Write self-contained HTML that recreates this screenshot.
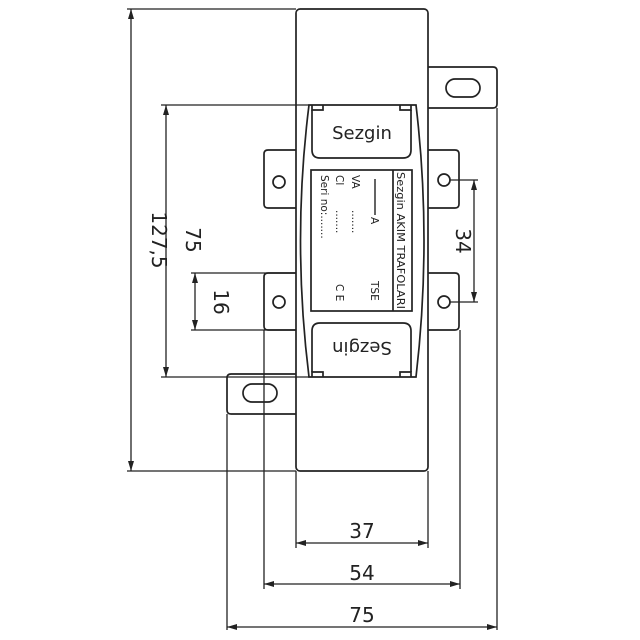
<!DOCTYPE html>
<html><head><meta charset="utf-8"><style>html,body{margin:0;padding:0;background:#fff}svg{display:block}text{font-family:"DejaVu Sans","Liberation Sans",sans-serif;fill:#222}</style></head>
<body>
<svg width="640" height="640" viewBox="0 0 640 640" xmlns="http://www.w3.org/2000/svg">
<defs>
<marker id="a" viewBox="0 0 10 6" refX="10" refY="3" markerWidth="10" markerHeight="6" orient="auto-start-reverse" markerUnits="userSpaceOnUse"><path d="M0,0 L10,3 L0,6 Z" fill="#222"/></marker>
</defs>
<g fill="none" stroke="#222" stroke-width="1.7">
<rect x="296" y="9" width="132" height="462" rx="4"/>
<path d="M428,67 H493 Q497,67 497,71 V104 Q497,108 493,108 H428"/>
<rect x="446" y="79" width="34" height="18" rx="9"/>
<path d="M296,374 H231 Q227,374 227,378 V410 Q227,414 231,414 H296"/>
<rect x="243" y="384" width="34" height="18" rx="9"/>
<path d="M428,150 H455 Q459,150 459,154 V204 Q459,208 455,208 H428"/>
<path d="M428,273 H455 Q459,273 459,277 V326 Q459,330 455,330 H428"/>
<circle cx="444" cy="180" r="6"/>
<circle cx="444" cy="302" r="6"/>
<path d="M296,150 H268 Q264,150 264,154 V204 Q264,208 268,208 H296"/>
<path d="M296,273 H268 Q264,273 264,277 V326 Q264,330 268,330 H296"/>
<circle cx="279" cy="182" r="6"/>
<circle cx="279" cy="302" r="6"/>
<path d="M309,105 H416 Q432,240 416,377 H309 Q292,240 309,105 Z" fill="#fff"/>
<path d="M312,105 V110 H323 V105 M411,105 V110 H400 V105"/>
<path d="M312,110 V150 Q312,158 320,158 H403 Q411,158 411,150 V110"/>
<path d="M312,377 V372 H323 V377 M411,377 V372 H400 V377"/>
<path d="M312,372 V331 Q312,323 320,323 H403 Q411,323 411,331 V372"/>
<rect x="311" y="170" width="101" height="141"/>
<line x1="393" y1="170" x2="393" y2="311"/>
<line x1="375" y1="179" x2="375" y2="215" stroke-width="1.4"/>
</g>
<g stroke="#222" stroke-width="1.3" fill="none">
<line x1="127" y1="9" x2="296" y2="9"/>
<line x1="127" y1="471" x2="296" y2="471"/>
<line x1="131" y1="9" x2="131" y2="471" marker-start="url(#a)" marker-end="url(#a)"/>
<line x1="161" y1="105" x2="309" y2="105"/>
<line x1="161" y1="377" x2="309" y2="377"/>
<line x1="166" y1="105" x2="166" y2="377" marker-start="url(#a)" marker-end="url(#a)"/>
<line x1="191" y1="273" x2="296" y2="273"/>
<line x1="191" y1="330" x2="296" y2="330"/>
<line x1="195" y1="273" x2="195" y2="330" marker-start="url(#a)" marker-end="url(#a)"/>
<line x1="450" y1="180" x2="478" y2="180"/>
<line x1="450" y1="302" x2="478" y2="302"/>
<line x1="474" y1="180" x2="474" y2="302" marker-start="url(#a)" marker-end="url(#a)"/>
<line x1="296" y1="471" x2="296" y2="548"/>
<line x1="428" y1="471" x2="428" y2="548"/>
<line x1="264" y1="330" x2="264" y2="589"/>
<line x1="460" y1="330" x2="460" y2="589"/>
<line x1="227" y1="414" x2="227" y2="630"/>
<line x1="497" y1="108" x2="497" y2="630"/>
<line x1="296" y1="543" x2="428" y2="543" marker-start="url(#a)" marker-end="url(#a)"/>
<line x1="264" y1="584" x2="460" y2="584" marker-start="url(#a)" marker-end="url(#a)"/>
<line x1="227" y1="627" x2="497" y2="627" marker-start="url(#a)" marker-end="url(#a)"/>
</g>
<g font-size="20">
<text x="362" y="538" text-anchor="middle">37</text>
<text x="362" y="580" text-anchor="middle">54</text>
<text x="362" y="622" text-anchor="middle">75</text>
<text transform="translate(152,240) rotate(90)" text-anchor="middle">127,5</text>
<text transform="translate(186,240) rotate(90)" text-anchor="middle">75</text>
<text transform="translate(214,302) rotate(90)" text-anchor="middle">16</text>
<text transform="translate(456,241) rotate(90)" text-anchor="middle">34</text>
</g>
<text x="362" y="139" font-size="18" text-anchor="middle">Sezgin</text>
<text transform="translate(362,342) rotate(180)" font-size="18" text-anchor="middle">Sezgin</text>
<g font-size="10.5">
<text transform="translate(397,172) rotate(90)" textLength="137" lengthAdjust="spacingAndGlyphs">Sezgin AKIM TRAFOLARI</text>
<text transform="translate(371,281) rotate(90)">TSE</text>
<text transform="translate(336,284) rotate(90)">C E</text>
<text transform="translate(371,217) rotate(90)">A</text>
<text transform="translate(352,175) rotate(90)">VA</text>
<text transform="translate(336,175) rotate(90)">Cl</text>
<text transform="translate(321,175) rotate(90)">Seri no:.......</text>
<text transform="translate(352,210) rotate(90)">.......</text>
<text transform="translate(336,210) rotate(90)">.......</text>
</g>
</svg>
</body></html>
